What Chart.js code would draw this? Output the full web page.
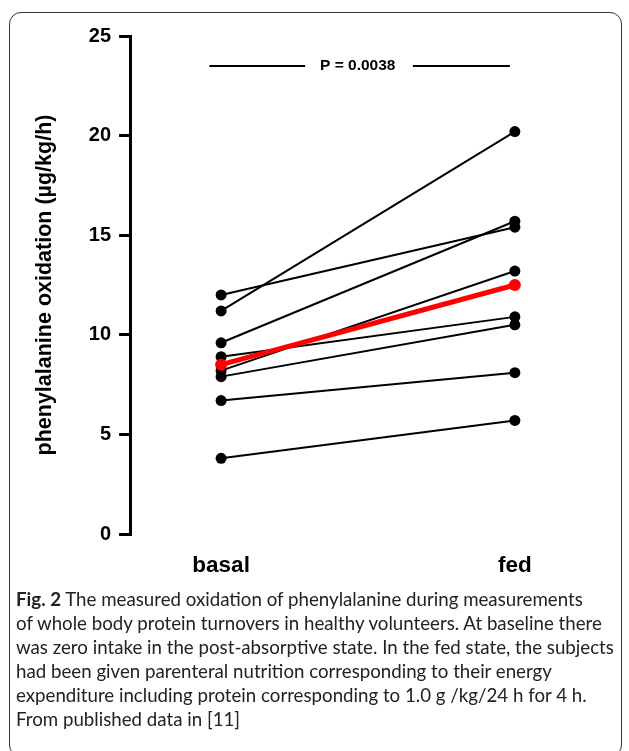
<!DOCTYPE html>
<html>
<head>
<meta charset="utf-8">
<script src="https://cdn.jsdelivr.net/npm/chart.js@4.4.1/dist/chart.umd.min.js"></script>
<style>
  html, body { margin: 0; padding: 0; background: #fff; }
  body { width: 629px; height: 751px; position: relative; overflow: hidden; }
  .frame {
    position: absolute; left: 9px; top: 12px; width: 613px; height: 745px;
    border: 1.5px solid #333; border-radius: 12px; box-sizing: border-box;
  }
  .plot { position: absolute; left: 0; top: 0; width: 629px; height: 589px; }
  .caption {
    position: absolute; left: 16px; top: 587px; width: 610px;
    font-family: Lato, sans-serif; font-size: 18.7px; line-height: 24px;
    color: #222; white-space: nowrap;
  }
  .caption b { font-weight: 700; }
</style>
</head>
<body>
<div class="frame"></div>
<div class="plot"><canvas id="chart" width="629" height="589"></canvas></div>
<div class="caption"><b>Fig. 2</b> The measured oxidation of phenylalanine during measurements<br>of whole body protein turnovers in healthy volunteers. At baseline there<br>was zero intake in the post-absorptive state. In the fed state, the subjects<br>had been given parenteral nutrition corresponding to their energy<br>expenditure including protein corresponding to 1.0 g /kg/24 h for 4 h.<br>From published data in [11]</div>
<script>
const conditions = ['basal', 'fed'];
const basalValues = [12.0, 11.2, 9.6, 8.9, 8.2, 7.9, 6.7, 3.8];
const fedValues = [15.4, 20.2, 15.7, 10.9, 13.2, 10.5, 8.1, 5.7];
const meanBasal = 8.5;
const meanFed = 12.5;
const yTicks = [0, 5, 10, 15, 20, 25];
const pLabel = 'P = 0.0038';

const datasets = basalValues.map((b, i) => ({
  data: [{ x: 0, y: b }, { x: 1, y: fedValues[i] }],
  borderColor: '#000',
  backgroundColor: '#000',
  borderWidth: 2,
  pointRadius: 5.5,
  pointBorderWidth: 0,
  order: 2
}));
datasets.push({
  data: [{ x: 0, y: meanBasal }, { x: 1, y: meanFed }],
  borderColor: '#ff0000',
  backgroundColor: '#ff0000',
  borderWidth: 5,
  pointRadius: 6,
  pointBorderWidth: 0,
  order: 1
});

// P-value bracket above the points
const pValuePlugin = {
  id: 'pValue',
  afterDatasetsDraw(chart) {
    const { ctx, scales: { x, y } } = chart;
    const py = y.getPixelForValue(23.5);
    const cx = x.getPixelForValue(0.465);
    ctx.save();
    ctx.strokeStyle = '#000';
    ctx.lineWidth = 2;
    ctx.beginPath();
    ctx.moveTo(x.getPixelForValue(-0.04), py);
    ctx.lineTo(x.getPixelForValue(0.286), py);
    ctx.moveTo(x.getPixelForValue(0.653), py);
    ctx.lineTo(x.getPixelForValue(0.983), py);
    ctx.stroke();
    ctx.fillStyle = '#000';
    ctx.font = 'bold 15.5px "Liberation Sans", Arial, sans-serif';
    ctx.textAlign = 'center';
    ctx.textBaseline = 'middle';
    ctx.fillText(pLabel, cx, py);
    ctx.restore();
  }
};

new Chart(document.getElementById('chart').getContext('2d'), {
  type: 'line',
  data: { datasets },
  options: {
    responsive: false,
    animation: false,
    layout: { padding: { top: 36, right: 26, left: 32, bottom: 0 } },
    plugins: { legend: { display: false }, tooltip: { enabled: false } },
    scales: {
      x: {
        type: 'linear',
        min: -0.31,
        max: 1.3,
        afterBuildTicks: (scale) => { scale.ticks = conditions.map((_, i) => ({ value: i })); },
        ticks: {
          callback: (v) => conditions[v],
          color: '#000',
          font: { family: '"Liberation Sans", Arial, sans-serif', size: 22.5, weight: 'bold' },
          padding: 10
        },
        grid: { display: false },
        border: { display: false }
      },
      y: {
        min: 0,
        max: 25,
        afterBuildTicks: (scale) => { scale.ticks = yTicks.map(v => ({ value: v })); },
        ticks: {
          color: '#000',
          font: { family: '"Liberation Sans", Arial, sans-serif', size: 20, weight: 'bold' },
          padding: 8
        },
        grid: { drawOnChartArea: false, drawTicks: true, color: '#000', lineWidth: 3, tickLength: 11 },
        border: { display: true, color: '#000', width: 3 },
        title: {
          display: true,
          text: 'phenylalanine oxidation (µg/kg/h)',
          color: '#000',
          font: { family: '"Liberation Sans", Arial, sans-serif', size: 21.5, weight: 'bold' },
          padding: { top: 0, bottom: 23 }
        }
      }
    }
  },
  plugins: [pValuePlugin]
});
</script>
</body>
</html>
